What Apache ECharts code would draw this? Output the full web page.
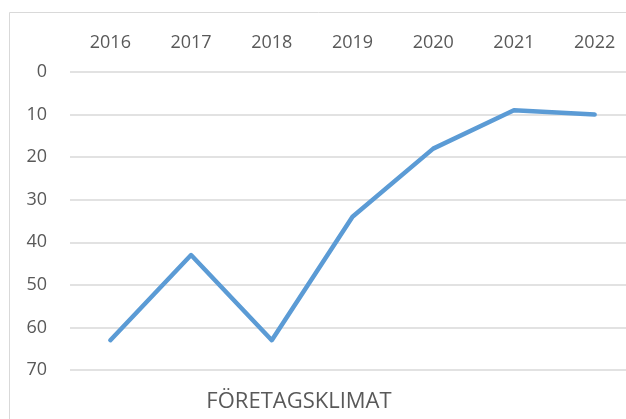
<!DOCTYPE html>
<html>
<head>
<meta charset="utf-8">
<script src="https://cdn.jsdelivr.net/npm/echarts@6/dist/echarts.min.js"></script>
<style>
    html, body { margin: 0; padding: 0; background: #fff; }
    #chart { width: 626px; height: 419px; }
</style>
</head>
<body>
<div id="chart"></div>
<script>
// år längs toppen
let years = ['2016', '2017', '2018', '2019', '2020', '2021', '2022'];
// placering (lägre = bättre, axeln är omvänd)
let ranking = [63, 43, 63, 34, 18, 9, 10];
let yTicks = [0, 10, 20, 30, 40, 50, 60, 70];
let chartTitle = 'FÖRETAGSKLIMAT';

let textColor = '#595959',
    gridColor = '#D9D9D9',
    lineColor = '#5B9BD5';

let chart = echarts.init(document.getElementById('chart'), null, { renderer: 'canvas' });

chart.setOption({
    animation: false,
    backgroundColor: '#fff',
    grid: {
        left: 70,
        top: 72,
        width: 565,
        height: 298,
        outerBoundsMode: 'none'
    },
    graphic: [{
        // ramen runt diagrammet
        type: 'rect',
        shape: { x: 9.5, y: 12.5, width: 700, height: 500 },
        style: { fill: 'none', stroke: gridColor, lineWidth: 1 },
        silent: true
    }, {
        type: 'text',
        x: 299,
        y: 402,
        style: {
            text: chartTitle,
            fill: textColor,
            font: '22px "Open Sans"',
            textAlign: 'center',
            textVerticalAlign: 'middle'
        },
        silent: true
    }],
    xAxis: {
        type: 'category',
        position: 'top',
        data: years,
        boundaryGap: true,
        axisLine: { show: false },
        axisTick: { show: false },
        axisLabel: {
            color: textColor,
            fontFamily: 'Open Sans',
            fontSize: 18,
            margin: 20
        }
    },
    yAxis: {
        type: 'value',
        inverse: true,
        min: yTicks[0],
        max: yTicks[yTicks.length - 1],
        interval: 10,
        axisLine: { show: false },
        axisTick: { show: false },
        axisLabel: {
            color: textColor,
            fontFamily: 'Open Sans',
            fontSize: 18,
            margin: 23
        },
        splitLine: {
            lineStyle: { color: gridColor, width: 1.5 }
        }
    },
    series: [{
        type: 'line',
        data: ranking,
        symbol: 'none',
        lineStyle: {
            color: lineColor,
            width: 4.5,
            cap: 'round',
            join: 'round'
        }
    }]
});
</script>
</body>
</html>
